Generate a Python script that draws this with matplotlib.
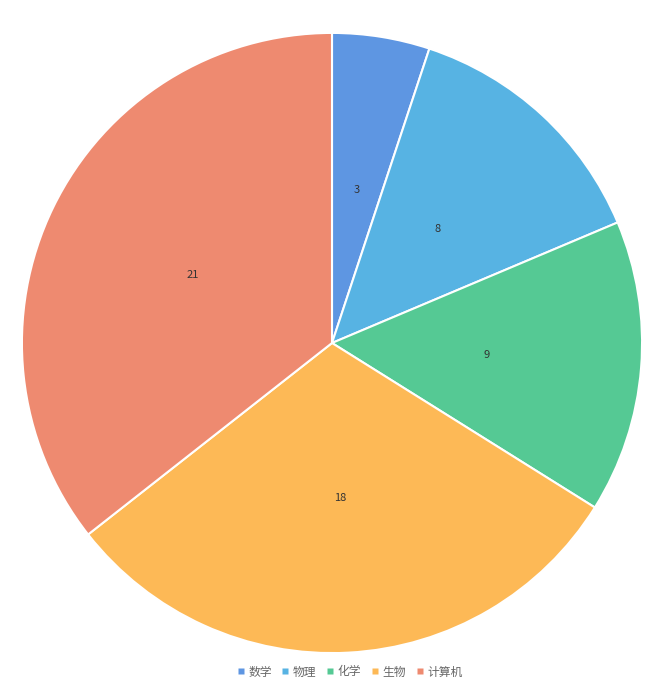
import matplotlib.pyplot as plt
from matplotlib.lines import Line2D

plt.rcParams['font.family'] = ['Noto Sans CJK SC', 'DejaVu Sans']

# 各学科人数
subjects = ['数学', '物理', '化学', '生物', '计算机']
counts = [3, 8, 9, 18, 21]
colors = ['#5e96e2', '#57b3e3', '#55c994', '#fdb956', '#ee8a70']

fig = plt.figure(figsize=(6.67, 6.87), dpi=100)
ax = fig.add_axes([21 / 667, 33 / 687, 622 / 667, 622 / 687])

wedges, texts = ax.pie(counts, labels=[str(c) for c in counts], colors=colors,
                       startangle=90, counterclock=False, labeldistance=0.5,
                       wedgeprops={'edgecolor': 'white', 'linewidth': 1.5},
                       textprops={'fontsize': 8, 'color': '#333333'})
for t in texts:
    t.set_horizontalalignment('center')
ax.set_xlim(-1.003, 1.003)
ax.set_ylim(-1.003, 1.003)
ax.set_aspect('equal')

# 底部图例
handles = [Line2D([0], [0], marker='s', color='none', markerfacecolor=c,
                  markeredgecolor='none', markersize=5) for c in colors]
fig.legend(handles, subjects, loc='center', bbox_to_anchor=(350 / 667, 1 - 672 / 687),
           ncol=5, frameon=False, fontsize=8.5, handlelength=0.5, handletextpad=0.4,
           columnspacing=0.9, labelcolor='#666666')

fig.savefig('out.png', dpi=100, facecolor='white')
